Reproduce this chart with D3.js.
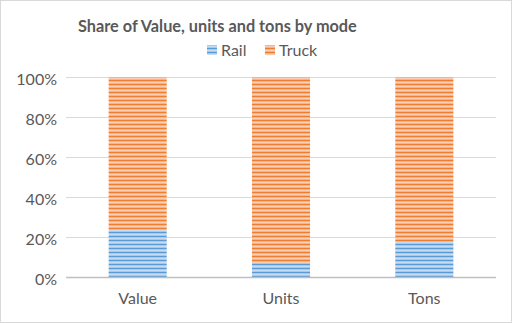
<!DOCTYPE html>
<html><head><meta charset="utf-8">
<script src="https://cdn.jsdelivr.net/npm/d3@7"></script>
<style>body{margin:0;background:#fff}svg{display:block}</style>
</head><body>
<svg id="c" width="512" height="323"></svg>
<script>
const categories = ["Value", "Units", "Tons"];
const rail = [0.24, 0.07, 0.18];
const truck = [0.76, 0.93, 0.82];
const seriesNames = ["Rail", "Truck"];
const yTicks = [0, 0.2, 0.4, 0.6, 0.8, 1.0];

const svg = d3.select("#c");
const W = 512, H = 323;
const m = {l: 66, r: 16, t: 77, b: 46};
const font = "Lato, 'Open Sans', sans-serif";

svg.append("rect").attr("x", 0.5).attr("y", 0.5).attr("width", W - 1).attr("height", H - 1)
  .attr("fill", "#fff").attr("stroke", "#d9d9d9");

const defs = svg.append("defs");
function pat(id, dark, light) {
  const p = defs.append("pattern").attr("id", id).attr("patternUnits", "userSpaceOnUse")
    .attr("width", 8).attr("height", 4);
  p.append("rect").attr("width", 8).attr("height", 4).attr("fill", light);
  p.append("rect").attr("y", 0).attr("width", 8).attr("height", 1).attr("fill", dark);
  p.append("rect").attr("y", 2).attr("width", 8).attr("height", 1).attr("fill", "#fff").attr("opacity", 0.35);
}
pat("pRail", "#5b9bd5", "#a9c8ea");
pat("pTruck", "#ed7d31", "#f6b48e");

const x = d3.scaleBand().domain(categories).range([m.l, W - m.r]).paddingInner(0.595).paddingOuter(0.2975);
const y = d3.scaleLinear().domain([0, 1]).range([H - m.b, m.t]);

// gridlines
svg.append("g").selectAll("line").data(yTicks.filter(d => d > 0)).join("line")
  .attr("x1", m.l).attr("x2", W - m.r)
  .attr("y1", d => Math.round(y(d)) + 0.5).attr("y2", d => Math.round(y(d)) + 0.5)
  .attr("stroke", "#d9d9d9").attr("stroke-width", 1);

// y labels
svg.append("g").selectAll("text").data(yTicks).join("text")
  .attr("x", 57).attr("y", d => y(d) + 8)
  .attr("text-anchor", "end").attr("font-family", font).attr("font-size", 16)
  .attr("fill", "#595959").text(d => d3.format(".0%")(d));

// bars
const stack = categories.map((c, i) => ({c, r: rail[i], t: truck[i]}));
svg.append("g").selectAll("rect").data(stack).join("rect")
  .attr("x", d => x(d.c)).attr("width", x.bandwidth())
  .attr("y", d => y(d.r)).attr("height", d => y(0) - y(d.r))
  .attr("fill", "url(#pRail)");
svg.append("g").selectAll("rect").data(stack).join("rect")
  .attr("x", d => x(d.c)).attr("width", x.bandwidth())
  .attr("y", d => y(d.r + d.t)).attr("height", d => y(d.r) - y(d.r + d.t))
  .attr("fill", "url(#pTruck)");

// axis line
svg.append("line").attr("x1", m.l).attr("x2", W - m.r)
  .attr("y1", y(0) + 0.5).attr("y2", y(0) + 0.5).attr("stroke", "#bfbfbf").attr("stroke-width", 1.5);

// x labels
svg.append("g").selectAll("text").data(categories).join("text")
  .attr("x", d => x(d) + x.bandwidth() / 2).attr("y", 304)
  .attr("text-anchor", "middle").attr("font-family", font).attr("font-size", 16)
  .attr("fill", "#595959").text(d => d);

// title
svg.append("text").attr("x", 78).attr("y", 32).attr("font-family", font)
  .attr("font-size", 16.3).attr("font-weight", "bold").attr("fill", "#595959")
  .text("Share of Value, units and tons by mode");

// legend
const leg = [{n: seriesNames[0], f: "url(#pRail)", x: 207}, {n: seriesNames[1], f: "url(#pTruck)", x: 265}];
const lg = svg.append("g").selectAll("g").data(leg).join("g");
lg.append("rect").attr("x", d => d.x).attr("y", 45).attr("width", 10).attr("height", 10).attr("fill", d => d.f);
lg.append("text").attr("x", d => d.x + 14).attr("y", 56).attr("font-family", font).attr("font-size", 16)
  .attr("fill", "#595959").text(d => d.n);
</script>
</body></html>
